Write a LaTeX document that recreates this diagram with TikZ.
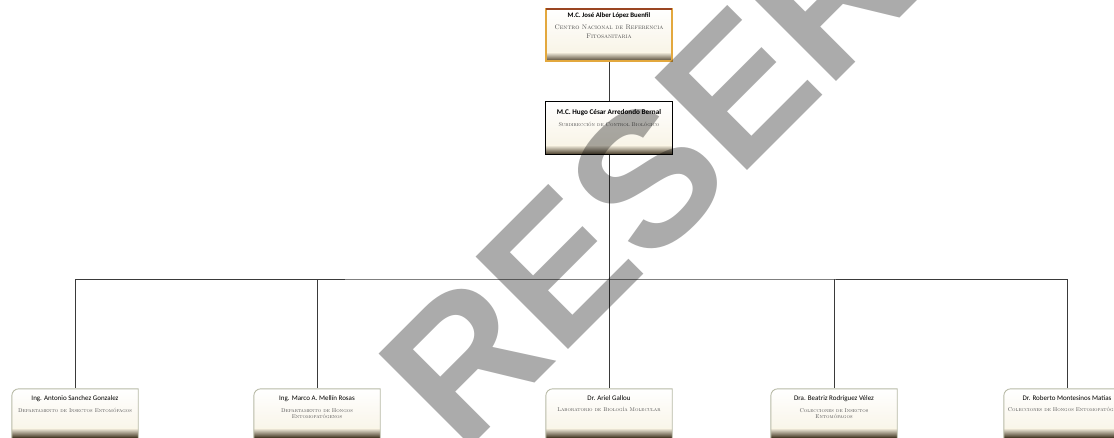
\documentclass[tikz,border=0pt]{standalone}
\usepackage{fontspec}
\newfontfamily\carlito{Carlito}
\newfontfamily\marcafont{Liberation Sans}
\usepackage{xcolor}
\usepackage{tikz}
\usetikzlibrary{positioning, calc}

\definecolor{lineac}{HTML}{3A3A3A}
\definecolor{crema}{HTML}{F7F2E2}
\definecolor{banda}{HTML}{4A3E2A}
\definecolor{oro}{HTML}{E3A83E}
\definecolor{cafe}{HTML}{9A4522}
\definecolor{bordeh}{HTML}{B8BAA6}

\tikzset{
  caja/.style={minimum width=126pt, minimum height=52pt, inner sep=0pt},
  nombre/.style={font=\carlito\fontsize{7}{8}\selectfont, inner sep=0pt},
  cargo/.style={font=\scshape\fontsize{5.5}{6.5}\selectfont, align=center, inner sep=0pt, text=black!70},
  linea/.style={draw=lineac, line width=0.8pt},
  sello/.style={font=\marcafont\bfseries\fontsize{190}{190}\selectfont, text=black, opacity=0.33, inner sep=0pt},
}

\begin{document}
\begin{tikzpicture}[x=1pt,y=-1pt]
    \useasboundingbox (0,0) rectangle (1114,437);
    % Cajas de la direccion y la subdireccion
    \node[caja] (dir) at (609,35) {};
    \node[caja] (sub) at (609,128) {};
    % Cajas de los departamentos
    \foreach \i/\x in {1/75, 2/317, 3/609, 4/834, 5/1067} {
        \node[caja] (dep\i) at (\x,415) {};
    }
    \coordinate (bus) at (609,279);

    % Conectores
    \draw[linea] (dir.south) -- (sub.north);
    \draw[linea] (sub.south) -- (bus);
    \draw[linea] (dep1.north) |- (bus) -| (dep5.north);
    \foreach \i in {2,3,4} {
        \draw[linea] (dep\i.north) -- (dep\i.north |- bus);
    }

    % Relleno de las cajas superiores
    \foreach \c in {dir, sub} {
        \shade[top color=white, bottom color=crema] (\c.north west) rectangle (\c.south east);
        \shade[top color=crema, bottom color=banda] ([yshift=9pt]\c.south west) rectangle (\c.south east);
    }
    \draw[oro, line width=1.6pt] (dir.south west) rectangle (dir.north east);
    \draw[cafe, line width=2.6pt] (dir.north west) -- (dir.north east);
    \draw[black, line width=1.3pt] (sub.south west) rectangle (sub.north east);

    % Cajas de departamentos con la esquina redondeada
    \foreach \i in {1,...,5} {
        \shade[top color=white, bottom color=crema] (dep\i.north west) rectangle (dep\i.south east);
        \shade[top color=crema, bottom color=banda] ([yshift=13pt]dep\i.south west) rectangle ([yshift=4pt]dep\i.south east);
        \fill[banda] ([yshift=4pt]dep\i.south west) rectangle (dep\i.south east);
        \draw[bordeh, line width=0.9pt] (dep\i.south west) -- ([yshift=-7pt]dep\i.north west)
            to[out=90,in=180] ([xshift=7pt]dep\i.north west) -- (dep\i.north east) -- (dep\i.south east);
    }

    % Textos
    \node[nombre, font=\carlito\bfseries\fontsize{6.8}{8}\selectfont, below=4pt of dir.north] (dir-n) {M.C. José Alber López Buenfil};
    \node[cargo, font=\scshape\fontsize{6.6}{9}\selectfont, below=6pt of dir-n] (dir-c) {Centro Nacional de Referencia\\Fitosanitaria};
    \node[nombre, font=\carlito\bfseries\fontsize{7.2}{8}\selectfont, below=7pt of sub.north] (sub-n) {M.C. Hugo César Arredondo Bernal};
    \node[cargo, below=7pt of sub-n] (sub-c) {Subdirección de Control Biológico};

    \node[nombre, below=7pt of dep1.north] (dep1-n) {Ing. Antonio Sanchez Gonzalez};
    \node[cargo, below=6pt of dep1-n] (dep1-c) {Departamento de Insectos Entomófagos};
    \node[nombre, below=7pt of dep2.north] (dep2-n) {Ing. Marco A. Mellín Rosas};
    \node[cargo, below=6pt of dep2-n] (dep2-c) {Departamento de Hongos\\Entomopatógenos};
    \node[nombre, below=7pt of dep3.north] (dep3-n) {Dr. Ariel Gallou};
    \node[cargo, below=6pt of dep3-n] (dep3-c) {Laboratorio de Biología Molecular};
    \node[nombre, below=7pt of dep4.north] (dep4-n) {Dra. Beatriz Rodríguez Vélez};
    \node[cargo, below=6pt of dep4-n] (dep4-c) {Colecciones de Insectos\\Entomófagos};
    \node[nombre, below=7pt of dep5.north] (dep5-n) {Dr. Roberto Montesinos Matías};
    \node[cargo, below=6pt of dep5-n] (dep5-c) {Colecciones de Hongos Entomopatógenos};

    % Marca de agua
    \node[sello, rotate=45, anchor=base west] (marca) at (462,456) {RESERVADO};
\end{tikzpicture}
\end{document}
